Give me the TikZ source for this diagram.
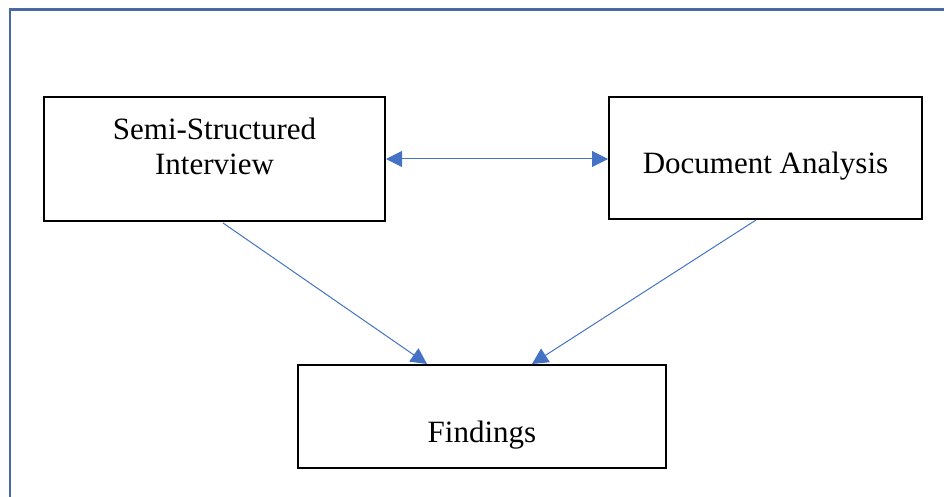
\documentclass[tikz,border=0pt]{standalone}
\usepackage{fontspec}
\setmainfont{Liberation Serif}
\usetikzlibrary{arrows.meta}
\definecolor{framecol}{HTML}{4A69A3}
\definecolor{arrowcol}{HTML}{4472C4}
\tikzset{
  methodbox/.style={draw=black,line width=2pt,inner sep=0pt},
  boxtext/.style={align=center,font=\fontsize{31}{35}\selectfont,inner sep=0pt},
  tip/.style={Triangle[length=16pt,width=16pt]},
  flow/.style={draw=arrowcol,line width=1pt,-{Triangle[length=16pt,width=16pt]}},
}
\begin{document}
\begin{tikzpicture}[x=1pt,y=-1pt]
  \useasboundingbox (0,0) rectangle (944,497);
  % outer frame, runs off on the right and bottom
  \draw [framecol,line width=2.5pt] (960,9.5) -- (10,9.5) -- (10,510);
  % the three boxes
  \node [methodbox,minimum width=341pt,minimum height=124pt] (interview) at (214.5,159) {};
  \node [methodbox,minimum width=313pt,minimum height=122pt] (docs) at (765.5,158) {};
  \node [methodbox,minimum width=368pt,minimum height=103pt] (findings) at (482,416.5) {};
  \node [boxtext] (interviewtxt) at ([yshift=13pt]interview.center) {Semi-Structured\\Interview};
  \node [boxtext] (docstxt) at ([yshift=-8pt]docs.center) {Document Analysis};
  \node [boxtext] (findingstxt) at ([yshift=-19pt]findings.center) {Findings};
  % arrows
  \draw [flow,{Triangle[length=16pt,width=16pt]}-{Triangle[length=16pt,width=16pt]}]
    (interview.east |- 0,159) -- (docs.west |- 0,159);
  \draw [flow] (223,223) -- (findings.north -| 427,0);
  \draw [flow] (756,220) -- (findings.north -| 532,0);
\end{tikzpicture}
\end{document}
